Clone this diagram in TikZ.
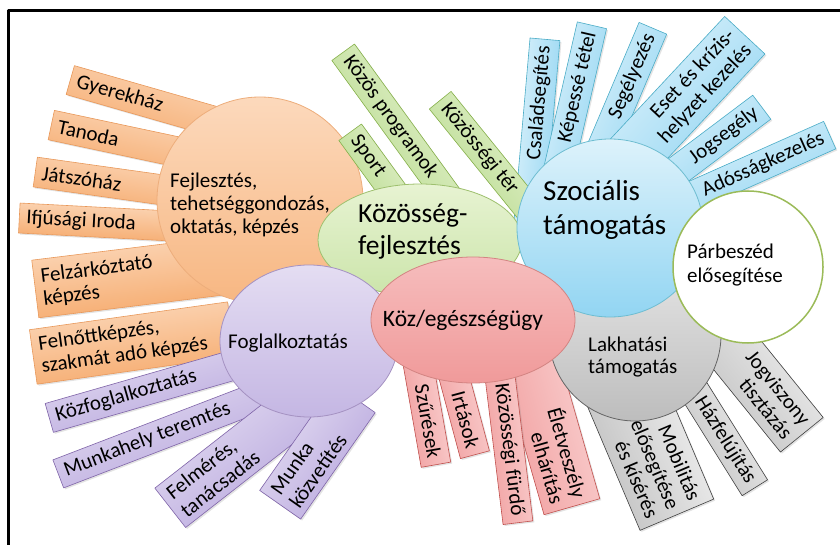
\documentclass[tikz,border=0pt]{standalone}
\usepackage{fontspec}
\setmainfont{Carlito}
\usetikzlibrary{shapes.geometric,shadows}
\definecolor{orV}{HTML}{FCD9BC}\definecolor{orS}{HTML}{F5A869}\definecolor{orK}{HTML}{E8985A}
\definecolor{zoV}{HTML}{E7F3D2}\definecolor{zoS}{HTML}{B5D98A}\definecolor{zoK}{HTML}{86B04A}
\definecolor{keV}{HTML}{DDF2FB}\definecolor{keS}{HTML}{92D5F2}\definecolor{keK}{HTML}{4AACC6}
\definecolor{szV}{HTML}{F2F2F2}\definecolor{szS}{HTML}{BDBDBD}\definecolor{szK}{HTML}{3F3F3F}
\definecolor{roV}{HTML}{FAD4D4}\definecolor{roS}{HTML}{F09A9A}\definecolor{roK}{HTML}{C0504D}
\definecolor{liV}{HTML}{E4DDF2}\definecolor{liS}{HTML}{B7A6DD}\definecolor{liK}{HTML}{7F64A8}
\definecolor{olK}{HTML}{9BBB59}
\begin{document}
\begin{tikzpicture}[x=1pt, y=-1pt, line join=round,
	sugar/.style={rectangle, draw, line width=.6pt, inner xsep=7pt, inner ysep=2pt,
		font=\fontsize{21}{23}\selectfont,
		drop shadow={opacity=.22, shadow xshift=1.5pt, shadow yshift=-1.5pt}},
	narancs/.style={sugar, top color=orV, bottom color=orS, draw=orK, anchor=west, align=flush left},
	zold/.style={sugar, top color=zoV, bottom color=zoS, draw=zoK, anchor=west, align=flush left},
	kek/.style={sugar, top color=keV, bottom color=keS, draw=keK, anchor=east, align=flush right},
	szurke/.style={sugar, top color=szV, bottom color=szS, draw=szK, anchor=east, align=flush right},
	rozsa/.style={sugar, top color=roV, bottom color=roS, draw=roK, anchor=east, align=flush right},
	lila/.style={sugar, top color=liV, bottom color=liS, draw=liK, anchor=west, align=flush left},
	kor/.style={ellipse, draw, line width=.8pt, inner sep=0pt},
	felirat/.style={align=flush left, inner sep=0pt, font=\fontsize{21}{23}\selectfont}]
	\useasboundingbox (0,0) rectangle (840,545);
	\draw[line width=3pt] (8,545)--(8,11)--(840,11); % keret
	% narancs sugarak
	\foreach \x/\y/\a/\l/\h/\t [count=\i] in {70/80/-16/190/30/Gyerekház, 51/125/-12/180/30/Tanoda,
		35/172/-8/180/30/Játszóház, 19/218/-3/190/30/Ifjúsági Iroda,
		35/289/7/190/58/{Felzárkóztató\\ képzés}, 33/357/8/200/55/{Felnőttképzés,\\ szakmát adó képzés}}
	{\pgfmathsetmacro\tw{\l-14}
		\node[narancs, rotate=\a, shading angle=\a, minimum width=\l pt, minimum height=\h pt, text width=\tw pt] (o\i) at (\x,\y) {\t};}
	\node[kor, top color=orV, bottom color=orS!70!orV, draw=orK!80, minimum size=206pt] (fejl) at (260,200) {};
	% kek sugarak
	\foreach \x/\y/\a/\l/\h/\t [count=\i] in {545/39/85/190/30/Családsegítés, 592/25/77/170/30/Képessé tétel,
		653/28/67/170/30/Segélyezés, 745/35/47/180/55/{Eset és krízis-\\ helyzet kezelés},
		762/107/37/150/30/Jogsegély, 830/135/24/180/30/Adósságkezelés}
	{\pgfmathsetmacro\tw{\l-14}
		\node[kek, rotate=\a, shading angle=\a, minimum width=\l pt, minimum height=\h pt, text width=\tw pt] (k\i) at (\x,\y) {\t};}
	% zold sugarak
	\foreach \x/\y/\a/\l/\h/\t [count=\i] in {350/132/-54/110/28/Sport, 343/52/-54/190/28/Közös programok,
		440/100/-51/160/28/Közösségi tér}
	{\pgfmathsetmacro\tw{\l-14}
		\node[zold, rotate=\a, shading angle=\a, minimum width=\l pt, minimum height=\h pt, text width=\tw pt] (z\i) at (\x,\y) {\t};}
	\node[kor, top color=zoV, bottom color=zoS!55!zoV, draw=zoK!80, minimum width=204pt, minimum height=112pt] (koz) at (420,240) {};
	% szurke sugarak
	\foreach \x/\y/\a/\l/\h/\t [count=\i] in {802/435/-51/170/55/{Jogviszony\\ tisztázás},
		755/488/-58/150/30/Házfelújítás, 677/515/-67/160/80/{Mobilitás\\ elősegítése\\ és kísérés}}
	{\pgfmathsetmacro\tw{\l-14}
		\node[szurke, rotate=\a, shading angle=\a, minimum width=\l pt, minimum height=\h pt, text width=\tw pt] (s\i) at (\x,\y) {\t};}
	% rozsaszin sugarak
	\foreach \x/\y/\a/\l/\h/\t [count=\i] in {572/507/-74/200/58/{Életveszély\\ elhárítás},
		518/523/-83/200/30/Közösségi fürdő, 475/455/-75/120/30/Irtások, 436/465/-80/130/30/Szűrések}
	{\pgfmathsetmacro\tw{\l-14}
		\node[rozsa, rotate=\a, shading angle=\a, minimum width=\l pt, minimum height=\h pt, text width=\tw pt] (r\i) at (\x,\y) {\t};}
	% lila sugarak
	\foreach \x/\y/\a/\l/\h/\t [count=\i] in {49/418/16/220/30/Közfoglalkoztatás, 58/474/21/230/30/Munkahely teremtés,
		170/508/38/170/50/{Felmérés,\\ tanácsadás}, 280/505/55/130/50/{Munka\\ közvetítés}}
	{\pgfmathsetmacro\tw{\l-14}
		\node[lila, rotate=\a, shading angle=\a, minimum width=\l pt, minimum height=\h pt, text width=\tw pt] (l\i) at (\x,\y) {\t};}
	% korok
	\node[kor, top color=liV, bottom color=liS!70!liV, draw=liK!70, minimum width=178pt, minimum height=152pt] (fogl) at (309,341) {};
	\node[kor, top color=szV!80!szS, bottom color=szS, draw=szK!80, minimum size=172pt] (lakh) at (635,335) {};
	\node[kor, top color=keV, bottom color=keS, draw=keK!80, minimum width=186pt, minimum height=178pt] (szoc) at (610,228) {};
	\node[kor, top color=roV!60!roS, bottom color=roS, draw=roK!70, minimum width=204pt, minimum height=126pt] (egesz) at (473,320) {};
	\node[kor, fill=white, draw=olK, line width=1.5pt, minimum width=150pt, minimum height=152pt] (parb) at (748,267) {};
	% feliratok
	\node[felirat, anchor=west] (fejl-t) at (170,205) {Fejlesztés,\\ tehetséggondozás,\\ oktatás, képzés};
	\node[felirat, anchor=west, font=\fontsize{27.5}{32}\selectfont] (koz-t) at (358,231) {Közösség-\\ fejlesztés};
	\node[felirat, anchor=west, font=\fontsize{29}{34}\selectfont] (szoc-t) at (543,210) {Szociális\\ támogatás};
	\node[felirat, anchor=west] (fogl-t) at (228,343) {Foglalkoztatás};
	\node[felirat, font=\fontsize{23.5}{26}\selectfont] (egesz-t) at (463,320) {Köz/egészségügy};
	\node[felirat, anchor=west, font=\fontsize{21}{22}\selectfont] (lakh-t) at (588,357) {Lakhatási\\ támogatás};
	\node[felirat, anchor=west, font=\fontsize{21}{24}\selectfont] (parb-t) at (687,265) {Párbeszéd\\ elősegítése};
\end{tikzpicture}
\end{document}
